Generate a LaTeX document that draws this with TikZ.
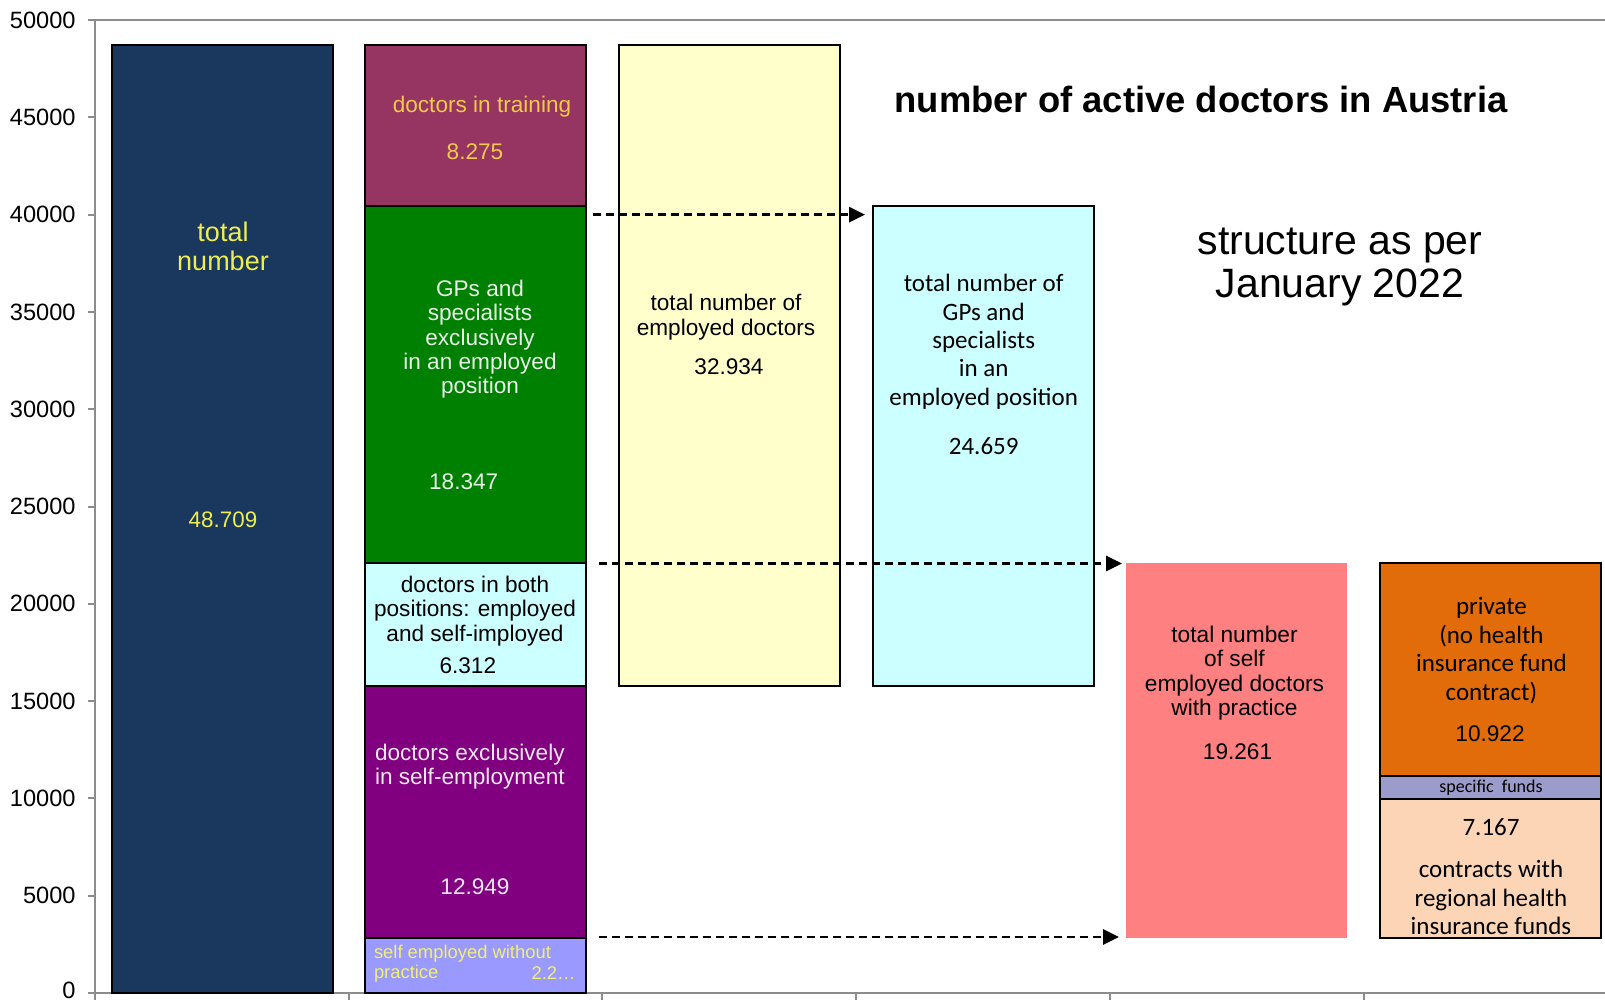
\documentclass[tikz,border=0pt]{standalone}
\usepackage{fontspec}
\setmainfont{Liberation Sans}
\newfontfamily\calib{Carlito}
\usetikzlibrary{arrows.meta}
\definecolor{navy}{HTML}{1A375E}
\definecolor{plum}{HTML}{963462}
\definecolor{dgreen}{HTML}{008000}
\definecolor{lcyan}{HTML}{CCFFFF}
\definecolor{dpurple}{HTML}{800080}
\definecolor{lav}{HTML}{9999FF}
\definecolor{lyellow}{HTML}{FFFFCC}
\definecolor{pink}{HTML}{FF8080}
\definecolor{orng}{HTML}{E36C0A}
\definecolor{specf}{HTML}{9C9CCC}
\definecolor{peach}{HTML}{FBD5B5}
\definecolor{axisgray}{HTML}{8C8C8C}
\definecolor{ylwA}{HTML}{EEEE50}
\definecolor{ylwB}{HTML}{F2C94C}
\definecolor{ylwC}{HTML}{F2F070}
\definecolor{gwhite}{HTML}{E8F2E8}
\definecolor{pwhite}{HTML}{F2E8F2}
\newcommand\myfs[2]{\fontsize{#1}{#2}\selectfont}
\tikzset{
  axisline/.style={draw=axisgray, line width=1pt},
  barbox/.style={draw=black, line width=1pt},
  ticklab/.style={anchor=east, inner sep=0pt, font=\myfs{11.8}{12.5}},
  txt/.style={inner sep=0pt, align=center, font=\myfs{11.3}{12.2}},
  ctxt/.style={inner sep=0pt, align=center, font=\calib\myfs{12.5}{14.2}},
  darr/.style={draw=black, line width=1.4pt, dash pattern=on 4pt off 2.5pt, -{Triangle[length=8pt,width=7.5pt]}}
}
\begin{document}
\begin{tikzpicture}[x=0.5pt,y=-0.5pt]
\useasboundingbox (0,0) rectangle (1605,1000);
\fill[white] (0,0) rectangle (1605,1000);
% axes
\draw[axisline] (95,20) -- (1605,20);
\draw[axisline] (95,20) -- (95,993) -- (1605,993);
\foreach \k/\v/\dy in {0/0/-3,1/5000/0,2/10000/0,3/15000/0,4/20000/0,5/25000/0,6/30000/0,7/35000/0,8/40000/0,9/45000/0,10/50000/0}{
  \draw[axisline] (88,{993-97.3*\k}) -- (95,{993-97.3*\k});
  \node[ticklab] (t\k) at (76,{993-97.3*\k+\dy}) {\v};
}
\foreach \x in {95,348.7,602.4,856.1,1109.8,1363.5}{
  \draw[axisline] (\x,993) -- (\x,1000);
}
% bars
\path[barbox, fill=navy] (111.5,45.1) rectangle (332.5,993);
\path[barbox, fill=plum] (365.2,45.1) rectangle (586.2,206.2);
\path[barbox, fill=dgreen] (365.2,206.2) rectangle (586.2,563.2);
\path[barbox, fill=lcyan] (365.2,563.2) rectangle (586.2,686);
\path[barbox, fill=dpurple] (365.2,686) rectangle (586.2,938);
\path[barbox, fill=lav] (365.2,938) rectangle (586.2,993);
\path[barbox, fill=lyellow] (618.9,45.1) rectangle (839.9,686);
\path[barbox, fill=lcyan] (872.6,206.2) rectangle (1093.6,686);
\fill[pink] (1126.3,563.2) rectangle (1347.3,938);
\path[barbox, fill=orng] (1380,563.2) rectangle (1601,775.7);
\path[barbox, fill=specf] (1380,775.7) rectangle (1601,798.5);
\path[barbox, fill=peach] (1380,798.5) rectangle (1601,938);
% arrows
\coordinate (a1s) at (593,214.6);
\coordinate (a1e) at (865,214.6);
\coordinate (a2s) at (599,563.5);
\coordinate (a2e) at (1122,563.5);
\coordinate (a3s) at (599,937);
\coordinate (a3e) at (1119,937);
\draw[darr] (a1s) -- (a1e);
\draw[darr] (a2s) -- (a2e);
\draw[darr] (a3s) -- (a3e);
% bar 1 texts
\node[txt, text=ylwA, font=\myfs{13.5}{14.35}] (b1a) at (223,246.5) {total\\number};
\node[txt, text=ylwA, font=\myfs{11.2}{12}] (b1b) at (223,520) {48.709};
% bar 2 texts
\node[txt, text=ylwB] (b2a) at (482,106.5) {doctors in training};
\node[txt, text=ylwB] (b2b) at (475,151.5) {8.275};
\node[txt, text=gwhite, font=\myfs{11.3}{12.15}] (b2c) at (480,339.4) {GPs and\\specialists\\exclusively\\in an employed\\position};
\node[txt, text=gwhite] (b2d) at (463.7,482) {18.347};
\node[txt, font=\myfs{11.3}{12.2}] (b2e) at (475,611) {doctors in both\\positions: employed\\and self-imployed};
\node[txt] (b2f) at (467.8,665.3) {6.312};
\node[txt, text=pwhite, anchor=west, align=left, font=\myfs{11.3}{12.3}] (b2g) at (374.6,766.7) {doctors exclusively\\in self-employment};
\node[txt, text=pwhite] (b2h) at (475,886.4) {12.949};
\node[txt, text=ylwC, anchor=west, font=\myfs{9.2}{9.7}] (b2i) at (373.6,954) {self employed without};
\node[txt, text=ylwC, anchor=west, font=\myfs{9.2}{9.7}] (b2j) at (373.6,973.4) {practice};
\node[txt, text=ylwC, anchor=east, font=\myfs{9.2}{9.7}] (b2k) at (576,973.4) {2.2\ldots};
% bar 3 texts
\node[txt, font=\myfs{11.3}{12.15}] (b3a) at (726,317.3) {total number of\\employed doctors};
\node[txt] (b3b) at (729,366.4) {32.934};
% bar 4 texts
\node[ctxt] (b4a) at (983.7,341.9) {total number of\\GPs and\\specialists\\in an\\employed position};
\node[ctxt] (b4b) at (983.7,446.3) {24.659};
% bar 5 texts
\node[txt, font=\myfs{11.35}{12.15}] (b5a) at (1234.5,673) {total number\\of self\\employed doctors\\with practice};
\node[txt] (b5b) at (1237.5,751.3) {19.261};
% bar 6 texts
\node[ctxt, font=\calib\myfs{12.5}{14.25}] (b6a) at (1491.4,650.5) {private\\(no health\\insurance fund\\contract)};
\node[txt] (b6b) at (1490,734) {10.922};
\node[ctxt, font=\calib\myfs{9}{10}] (b6c) at (1491,788) {specific\ \ funds};
\node[ctxt] (b6d) at (1491,827) {7.167};
\node[ctxt, font=\calib\myfs{12.5}{14.15}] (b6e) at (1491,897.7) {contracts with\\regional health\\insurance funds};
% titles
\node[txt, font=\bfseries\myfs{18.2}{20}] (title) at (1201,99) {number of active doctors in Austria};
\node[txt, font=\myfs{20.5}{21.5}] (sub) at (1340,267) {structure as per\\January 2022};
\end{tikzpicture}
\end{document}
